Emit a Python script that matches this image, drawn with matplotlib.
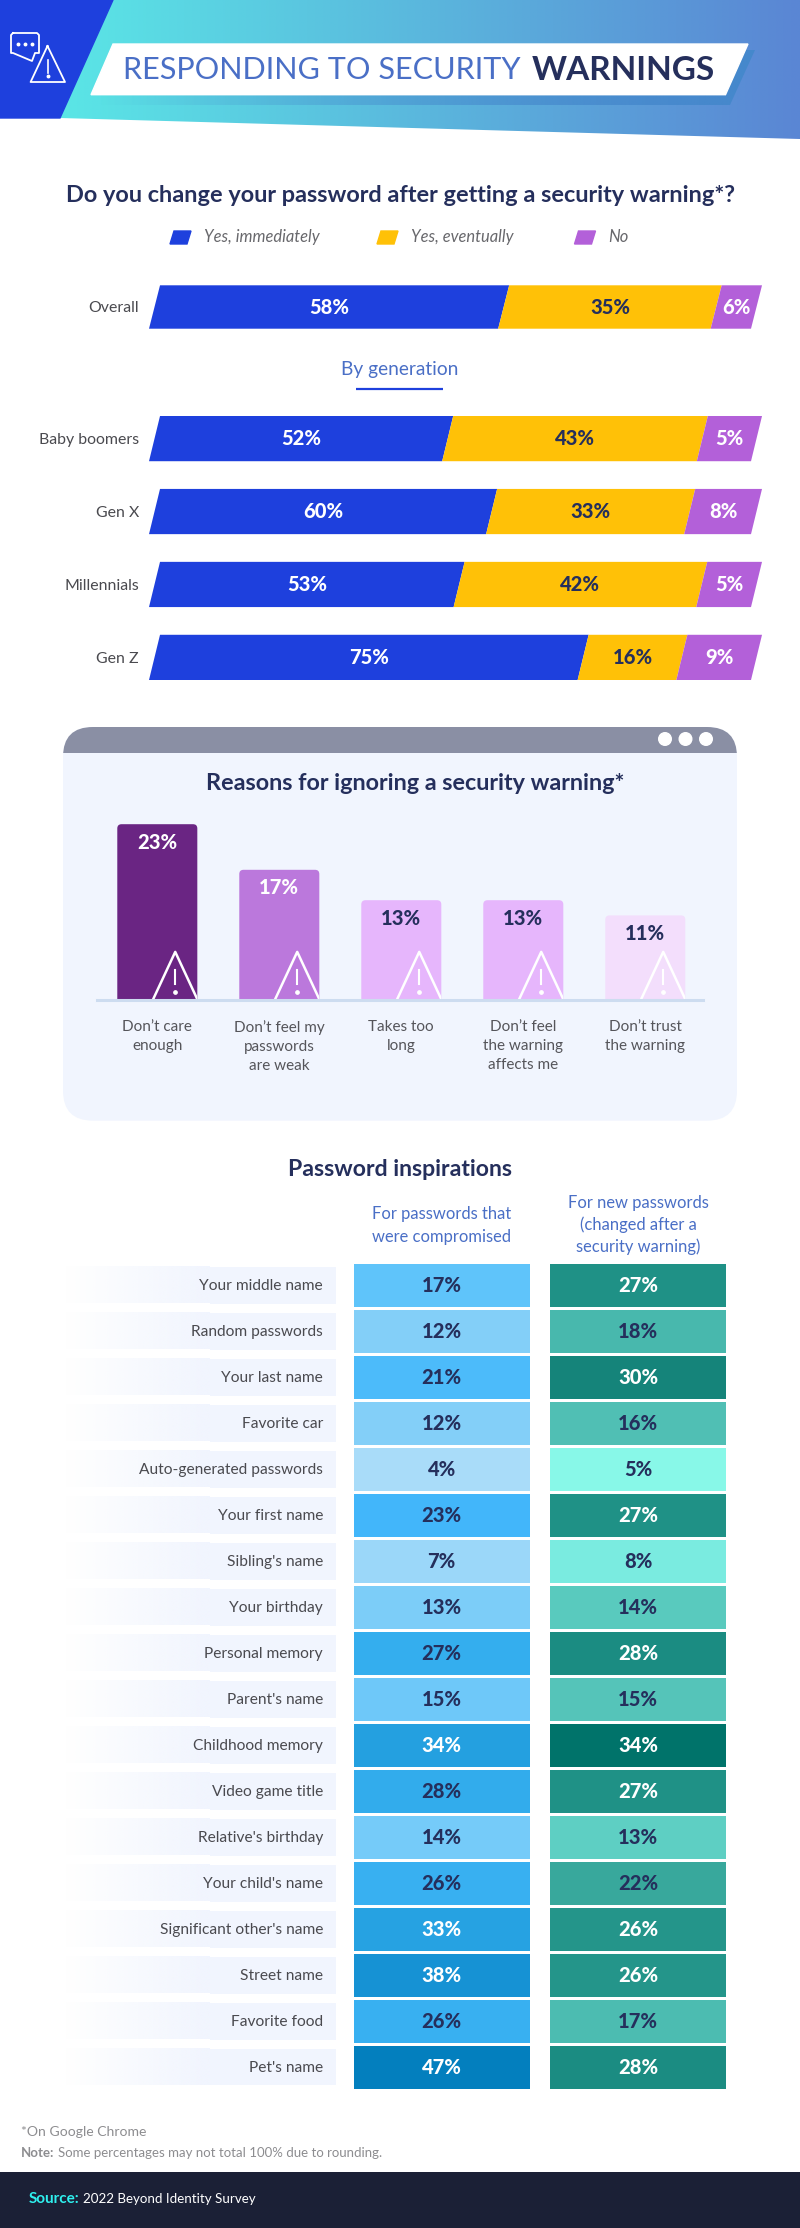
import numpy as np
import matplotlib
matplotlib.use('Agg')
import matplotlib.pyplot as plt
from matplotlib.colors import LinearSegmentedColormap, Normalize, to_rgb
from matplotlib.patches import Circle, FancyBboxPatch, Polygon, Rectangle

# Stacked bars
rows = ['Overall', 'Baby boomers', 'Gen X', 'Millennials', 'Gen Z']
legend_names = ['Yes, immediately', 'Yes, eventually', 'No']
yes_now = [58, 52, 60, 53, 75]
yes_later = [35, 43, 33, 42, 16]
no = [6, 5, 8, 5, 9]
# the bars in the picture are not quite proportional to their labels,
# so the lengths are read off separately (% of the full bar)
yes_now_len = [58.0, 48.7, 56.0, 50.6, 71.2]
yes_later_len = [35.3, 42.3, 32.9, 40.3, 16.4]
no_len = [6.7, 9.0, 11.1, 9.1, 12.4]

# Reasons panel
reasons = ['Don’t care\nenough', 'Don’t feel my\npasswords\nare weak', 'Takes too\nlong',
           'Don’t feel\nthe warning\naffects me', 'Don’t trust\nthe warning']
reason_vals = [23, 17, 13, 13, 11]

# Password table
inspirations = ['Your middle name', 'Random passwords', 'Your last name', 'Favorite car',
                'Auto-generated passwords', 'Your first name', "Sibling's name", 'Your birthday',
                'Personal memory', "Parent's name", 'Childhood memory', 'Video game title',
                "Relative's birthday", "Your child's name", "Significant other's name",
                'Street name', 'Favorite food', "Pet's name"]
compromised = [17, 12, 21, 12, 4, 23, 7, 13, 27, 15, 34, 28, 14, 26, 33, 38, 26, 47]
new_pw = [27, 18, 30, 16, 5, 27, 8, 14, 28, 15, 34, 27, 13, 22, 26, 26, 17, 28]

BLUE = '#1e40dd'
YELLOW = '#ffc107'
PURPLE = '#b360d9'
NAVY = '#252f5c'
MID_BLUE = '#4a6fc6'
GREY = '#4a4a4f'
PANEL = '#f1f5fe'
HEAVY = 900
W, H = 800, 2228

plt.rcParams['font.family'] = ['Lato', 'DejaVu Sans']
fig = plt.figure(figsize=(W / 100, H / 100), dpi=100)


def px_axes(x0, y0, x1, y1):
    a = fig.add_axes([x0 / W, 1 - y1 / H, (x1 - x0) / W, (y1 - y0) / H])
    a.patch.set_alpha(0)
    for s in a.spines.values():
        s.set_visible(False)
    a.tick_params(length=0)
    return a


bg = px_axes(0, 0, W, H)
bg.axis('off')
bg.set_xlim(0, W)
bg.set_ylim(H, 0)


def label(x, y, s, size, color=GREY, ha='left', **kw):
    return bg.text(x, y, s, fontsize=size, color=color, ha=ha, va='center', **kw)


def gradient(c0, c1, a0, a1, extent, clip=None):
    t = np.linspace(0, 1, 256)
    img = np.zeros((1, 256, 4))
    for i in range(3):
        img[0, :, i] = to_rgb(c0)[i] + (to_rgb(c1)[i] - to_rgb(c0)[i]) * t
    img[0, :, 3] = a0 + (a1 - a0) * t
    im = bg.imshow(img, extent=extent, aspect='auto', interpolation='bilinear', zorder=1)
    if clip is not None:
        im.set_clip_path(Polygon(clip, transform=bg.transData))
    return im


# Header
gradient('#5ae6e6', '#5a86d4', 1, 1, (60, 800, 140, 0), [(113, 0), (800, 0), (800, 139), (60, 118)])
bg.add_patch(Polygon([(0, 0), (113, 0), (60, 118), (0, 118)], color=BLUE, zorder=2))
shadow = [(120, 50), (755, 50), (730, 105), (97, 105)]
gradient('#4588cc', '#4588cc', 0, 1, (97, 760, 105, 50), shadow)
bg.add_patch(Polygon([(113, 44), (748, 44), (725.5, 94.7), (91, 94.7)], color='white', zorder=3))
label(123, 70, 'RESPONDING TO SECURITY', 22.1, MID_BLUE, zorder=4)
label(532, 70, 'WARNINGS', 24, NAVY, fontweight='bold', zorder=4)

# Header icons
bg.plot([13, 37, 39, 39, 35, 32, 13, 11, 11, 13], [33, 33, 35, 53, 53, 61, 53, 53, 35, 33], color='white', lw=1.3, zorder=4)
bg.plot([18, 25, 32], [44, 44, 44], 'o', color='white', ms=1.8, zorder=4)
bg.plot([47.5, 30.6, 65, 47.5], [46, 82, 82, 46], color='white', lw=1.3, zorder=4)
bg.plot([47.5, 47.5], [60, 73], color='white', lw=1.2, zorder=4)
bg.plot([47.5], [76], 'o', color='white', ms=1.8, zorder=4)

# Question + legend
label(400, 196, 'Do you change your password after getting a security warning*?', 16.9, NAVY, ha='center', fontweight='bold')
for name, col, x0, xt in zip(legend_names, [BLUE, YELLOW, PURPLE], [170, 377, 574.5], [204, 411, 608]):
    bg.add_patch(Polygon([(x0 + 4, 231), (x0 + 21, 231), (x0 + 17, 244), (x0, 244)], color=col))
    label(xt, 237, name, 11.9, '#68686c', style='italic')

label(400, 370, 'By generation', 13.8, MID_BLUE, ha='center')
bg.plot([356, 443], [388.7, 388.7], color=BLUE, lw=1.6, solid_capstyle='butt')


def stacked(a, idx, ypos, bar_h, skew=1.83):
    for i, y in zip(idx, ypos):
        left = 0
        for lens, vals, col, tc in [(yes_now_len, yes_now, BLUE, 'white'),
                                    (yes_later_len, yes_later, YELLOW, NAVY),
                                    (no_len, no, PURPLE, 'white')]:
            right = left + lens[i]
            a.fill([left, right, right + skew, left + skew],
                   [y + bar_h / 2, y + bar_h / 2, y - bar_h / 2, y - bar_h / 2], color=col, lw=0)
            a.text((left + right + skew) / 2, y, f'{vals[i]}%', color=tc, ha='center', va='center',
                   fontsize=14.5, fontweight=HEAVY)
            left = right
    a.set_xlim(0, 103)
    a.set_xticks([])
    a.set_yticks(ypos, [rows[i] for i in idx], fontsize=11.4, color=GREY)
    a.tick_params(axis='y', pad=7.2)


# px per % is 6.02, so 103 % is 620 px wide
ax_all = px_axes(149, 285.3, 149 + 6.02 * 103, 328.7)
ax_all.set_ylim(0.5, -0.5)
stacked(ax_all, [0], [0], 1.0)
ax_gen = px_axes(149, 416, 149 + 6.02 * 103, 680)
ax_gen.set_ylim(3.31, -0.31)
stacked(ax_gen, [1, 2, 3, 4], [0, 1, 2, 3], 0.62)

# Reasons panel
bg.add_patch(FancyBboxPatch((63, 727), 674, 393.7, boxstyle='round,pad=0,rounding_size=30', fc=PANEL, ec='none'))
head = FancyBboxPatch((63, 727), 674, 60, boxstyle='round,pad=0,rounding_size=30', fc='#8a8fa4', ec='none')
bg.add_patch(head)
head.set_clip_path(Rectangle((63, 727), 674, 25.7, transform=bg.transData))
for x in [665, 685.5, 706]:
    bg.add_patch(Circle((x, 739), 6.3, color='white'))
label(415, 784, 'Reasons for ignoring a security warning*', 16.8, NAVY, ha='center', fontweight='bold')

ax_r = px_axes(97.4, 814, 702.5, 999)
ax_r.set_xlim(-0.491, 4.469)
ax_r.set_ylim(0, 185 / 7.6)
reason_cols = ['#6a2583', '#bb78dc', '#e6b6fc', '#e6b6fc', '#f3defc']
reason_text = ['white', 'white', NAVY, NAVY, NAVY]
for i, (v, c, tc) in enumerate(zip(reason_vals, reason_cols, reason_text)):
    bar = FancyBboxPatch((i - 0.328, -1), 0.656, v + 1, boxstyle='round,pad=0,rounding_size=0.035',
                         mutation_aspect=16, fc=c, ec='none')
    ax_r.add_patch(bar)
    ax_r.annotate(f'{v}%', (i, v), xytext=(0, -13), textcoords='offset points', ha='center', va='center',
                  color=tc, fontsize=14.5, fontweight=HEAVY)
    # warning sign, sits at the right end of each bar
    xc = i + 0.147
    tri, = ax_r.plot([xc - 0.18, xc, xc + 0.18], [0, 6.2, 0], color='white', lw=1.8)
    tri.set_clip_path(bar)
    ax_r.plot([xc, xc], [1.95, 3.85], color='white', lw=1.5)
    ax_r.plot([xc], [0.9], 'o', color='white', ms=2.4)
ax_r.axhline(-1.3 / 7.6, color='#cddcf0', lw=2.2, clip_on=False)
ax_r.set_xticks(range(len(reasons)), reasons, fontsize=11, color='#55555a', linespacing=1.46)
ax_r.set_yticks([])
ax_r.tick_params(axis='x', pad=15)

# Password table
label(400, 1169, 'Password inspirations', 16.6, NAVY, ha='center', fontweight='bold')
label(441.7, 1225.5, 'For passwords that\nwere compromised', 11.9, MID_BLUE, ha='center', linespacing=1.5)
label(638, 1225, 'For new passwords\n(changed after a\nsecurity warning)', 11.9, MID_BLUE, ha='center', linespacing=1.38)

blues = LinearSegmentedColormap.from_list('b', [(0, '#a9dcf9'), (8 / 43, '#83cff8'), (13 / 43, '#5fc4fa'),
                                                (19 / 43, '#42b6fa'), (23 / 43, '#34aeee'), (30 / 43, '#24a0e0'),
                                                (34 / 43, '#1692d4'), (1, '#037fbe')])
greens = LinearSegmentedColormap.from_list('g', [(0, '#88f8e8'), (3 / 29, '#7aebe0'), (8 / 29, '#5ecfc3'),
                                                 (11 / 29, '#50bfb4'), (13 / 29, '#48b8ad'), (17 / 29, '#38a89c'),
                                                 (22 / 29, '#1f9186'), (25 / 29, '#15847a'), (1, '#00736a')])
y_rows = np.arange(len(inspirations))
ax_l = px_axes(354, 1262.2, 529.5, 2090.2)
ax_n = px_axes(550, 1262.2, 726, 2090.2)
for a, vals, cmap, norm, cut in [(ax_l, compromised, blues, Normalize(4, 47), 33),
                                 (ax_n, new_pw, greens, Normalize(5, 34), 26)]:
    a.barh(y_rows, 1, height=43 / 46, color=cmap(norm(vals)))
    for y, v in zip(y_rows, vals):
        a.text(0.5, y, f'{v}%', ha='center', va='center', fontsize=14.5, fontweight=HEAVY,
               color='white' if v >= cut else NAVY)
    a.set_xlim(0, 1)
    a.set_ylim(len(vals) - 0.5, -0.5)
    a.set_xticks([])
    a.set_yticks([])

for i, name in enumerate(inspirations):
    yc = 1285.2 + 46 * i
    gradient(PANEL, PANEL, 0, 1, (65, 210, yc + 18.3, yc - 18.3))
    bg.add_patch(Rectangle((210, yc - 18.3), 125.7, 36.6, color=PANEL, lw=0, zorder=1))
    label(323, yc + 1, name, 11.2, ha='right', zorder=3)

# Footer
label(21, 2132, '*On Google Chrome', 10.1, '#8d8d90')
label(20.4, 2153, 'Note:', 9.5, '#8d8d90', fontweight='bold')
label(58, 2153, 'Some percentages may not total 100% due to rounding.', 9.5, '#8d8d90')
bg.add_patch(Rectangle((0, 2171.7), W, 57, color='#1b2036', lw=0))
label(28.6, 2199, 'Source:', 11, '#2ff0ee', fontweight='bold')
label(83, 2199, '2022 Beyond Identity Survey', 9.6, 'white')

bg.set_xlim(0, W)
bg.set_ylim(H, 0)
fig.savefig('out.png', dpi=100)
